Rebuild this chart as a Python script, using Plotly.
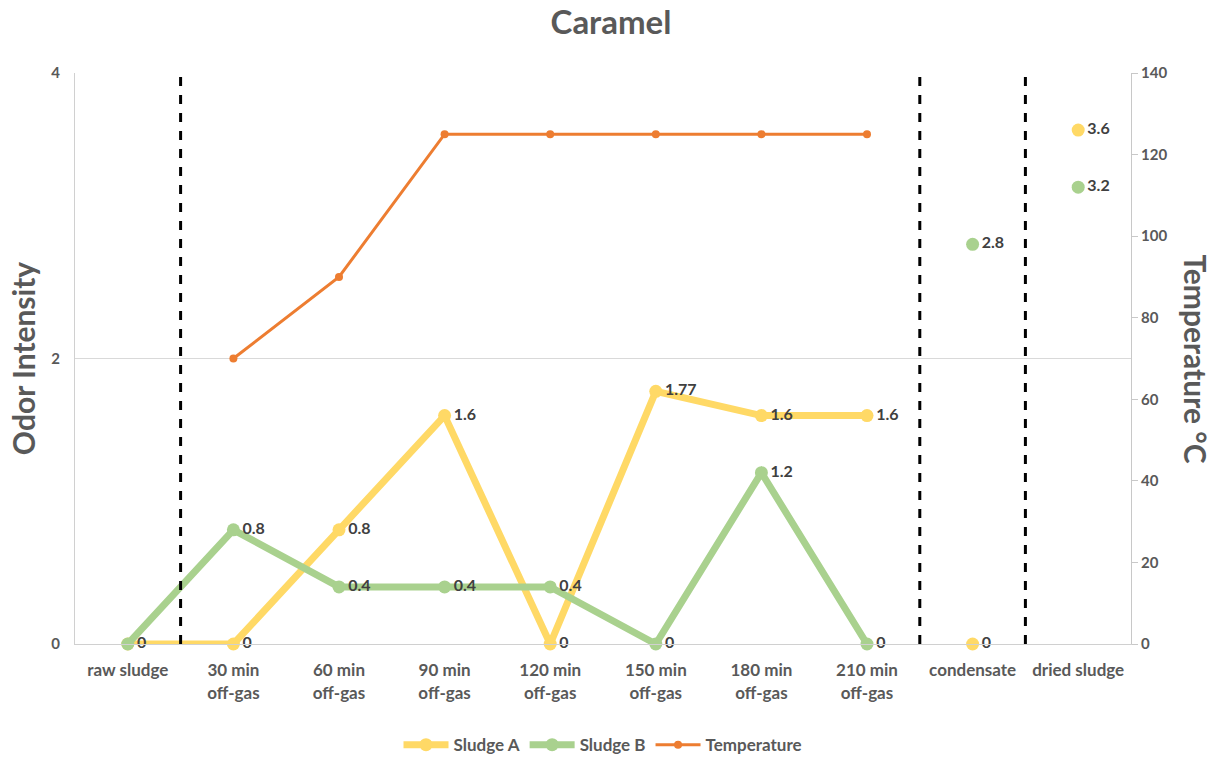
import plotly.graph_objects as go

# Sampling stages along the x axis
categories = ["raw sludge", "30 min<br>off-gas", "60 min<br>off-gas", "90 min<br>off-gas",
              "120 min<br>off-gas", "150 min<br>off-gas", "180 min<br>off-gas",
              "210 min<br>off-gas", "condensate", "dried sludge"]

# Odor intensity (left axis)
sludge_a = [0, 0, 0.8, 1.6, 0, 1.77, 1.6, 1.6, 0, 3.6]
sludge_b = [0, 0.8, 0.4, 0.4, 0.4, 0, 1.2, 0, 2.8, 3.2]

# Temperature (right axis), only measured during off-gas sampling
temperature = [None, 70, 90, 125, 125, 125, 125, 125, None, None]

# Text labels shown beside each point
labels_a = ["", "0", "0.8", "1.6", "0", "1.77", "1.6", "1.6", "0", "3.6"]
labels_b = ["0", "0.8", "0.4", "0.4", "0.4", "0", "1.2", "0", "2.8", "3.2"]

n_line = 8  # off-gas series are connected; condensate and dried sludge stand alone

COL_A = "#FFD966"
COL_B = "#A9D18E"
COL_T = "#ED7D31"
TXT = "#595959"
LBL = "#404040"
FONT = "Lato"

fig = go.Figure()

label_font = dict(family=FONT, size=16, color=LBL, weight="bold")

fig.add_trace(go.Scatter(
    x=categories[:n_line], y=sludge_a[:n_line], name="Sludge A",
    mode="lines+markers+text", text=labels_a[:n_line], textposition="middle right",
    textfont=label_font, line=dict(color=COL_A, width=7), marker=dict(size=13, color=COL_A),
    legendgroup="a", cliponaxis=False))
fig.add_trace(go.Scatter(
    x=categories[n_line:], y=sludge_a[n_line:], name="Sludge A", showlegend=False,
    mode="markers+text", text=labels_a[n_line:], textposition="middle right",
    textfont=label_font, marker=dict(size=13, color=COL_A), legendgroup="a", cliponaxis=False))

fig.add_trace(go.Scatter(
    x=categories[:n_line], y=sludge_b[:n_line], name="Sludge B",
    mode="lines+markers+text", text=labels_b[:n_line], textposition="middle right",
    textfont=label_font, line=dict(color=COL_B, width=7), marker=dict(size=13, color=COL_B),
    legendgroup="b", cliponaxis=False))
fig.add_trace(go.Scatter(
    x=categories[n_line:], y=sludge_b[n_line:], name="Sludge B", showlegend=False,
    mode="markers+text", text=labels_b[n_line:], textposition="middle right",
    textfont=label_font, marker=dict(size=13, color=COL_B), legendgroup="b", cliponaxis=False))

fig.add_trace(go.Scatter(
    x=categories, y=temperature, name="Temperature", yaxis="y2",
    mode="lines+markers", line=dict(color=COL_T, width=3), marker=dict(size=8, color=COL_T)))

# Dashed separators between the stage groups
for boundary in (0.5, n_line - 0.5, n_line + 0.5):
    fig.add_shape(type="line", xref="x", yref="paper", x0=boundary, x1=boundary,
                  y0=0, y1=1.005, line=dict(color="black", width=3, dash="dash"))

fig.add_annotation(text="Temperature °C", xref="paper", yref="paper", x=1.0616, y=0.5,
                   xanchor="center", yanchor="middle",
                   textangle=90, showarrow=False,
                   font=dict(family=FONT, size=30, color=TXT, weight="bold"))

fig.update_layout(
    width=1222, height=758,
    margin=dict(l=75, r=91, t=73, b=114, autoexpand=False),
    paper_bgcolor="white", plot_bgcolor="white",
    font=dict(family=FONT, color=TXT, size=16, weight="bold"),
    title=dict(text="Caramel", x=0.5, xanchor="center", y=0.97, yanchor="middle",
               font=dict(family=FONT, size=33, color=TXT, weight="bold")),
    xaxis=dict(type="category", categoryorder="array", categoryarray=categories,
               range=[-0.5, len(categories) - 0.5], showgrid=False,
               showline=True, linecolor="#D0D0D0", linewidth=1, ticks="",
               ticklabelstandoff=11,
               tickfont=dict(family=FONT, size=17, color=TXT, weight="bold")),
    yaxis=dict(range=[0, 4], tickvals=[0, 2, 4], showgrid=True, gridcolor="#D9D9D9",
               zeroline=False, showline=True, linecolor="#D0D0D0", ticks="",
               ticklabelstandoff=11,
               tickfont=dict(family=FONT, size=15, color=TXT, weight="bold"),
               title=dict(text="Odor Intensity", standoff=6,
                          font=dict(family=FONT, size=30, color=TXT, weight="bold"))),
    yaxis2=dict(range=[0, 140], dtick=20, overlaying="y", side="right", showgrid=False,
                zeroline=False, showline=True, linecolor="#C8C8C8", ticks="outside",
                ticklen=6, tickcolor="#C8C8C8",
                tickfont=dict(family=FONT, size=15, color=TXT, weight="bold")),
    legend=dict(orientation="h", x=0.5, xanchor="center", yref="container",
                y=0.017, yanchor="middle", itemwidth=45,
                font=dict(family=FONT, size=17, color=TXT, weight="bold"),
                bgcolor="rgba(0,0,0,0)"),
    showlegend=True,
)

fig.write_html("out.html")
